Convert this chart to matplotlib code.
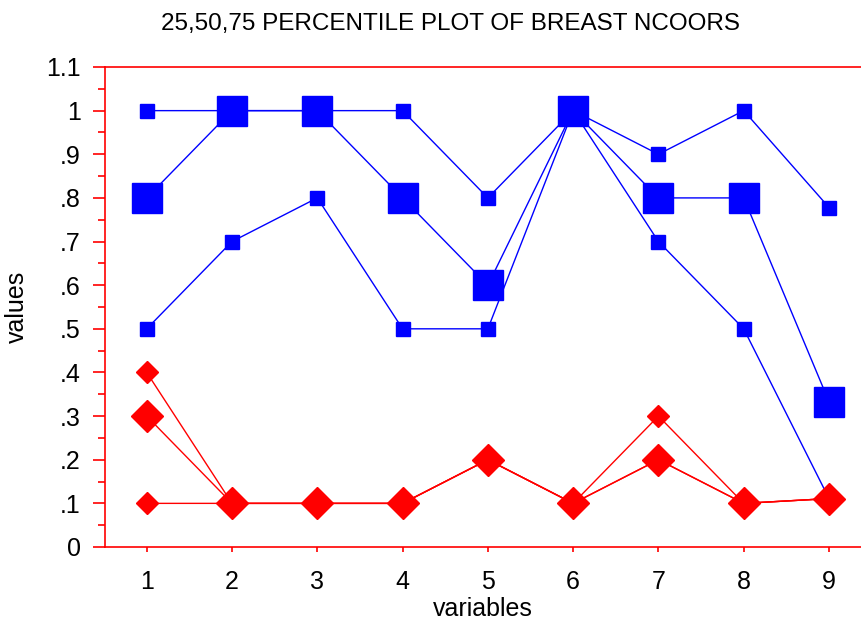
import matplotlib
matplotlib.use("Agg")
import matplotlib.pyplot as plt
import numpy as np

plt.rcParams['font.family'] = ['Liberation Sans', 'DejaVu Sans']

variables = [1, 2, 3, 4, 5, 6, 7, 8, 9]

# blue group
blue_p75 = [1.0, 1.0, 1.0, 1.0, 0.8, 1.0, 0.9, 1.0, 0.778]
blue_p50 = [0.8, 1.0, 1.0, 0.8, 0.6, 1.0, 0.8, 0.8, 0.333]
blue_p25 = [0.5, 0.7, 0.8, 0.5, 0.5, 1.0, 0.7, 0.5, 0.111]

# red group
red_p75 = [0.4, 0.1, 0.1, 0.1, 0.2, 0.1, 0.3, 0.1, 0.111]
red_p50 = [0.3, 0.1, 0.1, 0.1, 0.2, 0.1, 0.2, 0.1, 0.111]
red_p25 = [0.1, 0.1, 0.1, 0.1, 0.2, 0.1, 0.2, 0.1, 0.111]

yticks = np.round(np.arange(0, 1.11, 0.1), 2)
ytick_labels = ['0', '.1', '.2', '.3', '.4', '.5', '.6', '.7', '.8', '.9', '1', '1.1']

fig = plt.figure(figsize=(8.61, 6.25), dpi=100)
ax = fig.add_axes([105 / 861, 78 / 625, 1 - 105 / 861, 480 / 625])

blue = '#0000ff'
red = '#ff0000'

ax.plot(variables, blue_p75, color=blue, lw=1, marker='s', ms=10, mec=blue, mfc=blue)
ax.plot(variables, blue_p25, color=blue, lw=1, marker='s', ms=10, mec=blue, mfc=blue)
ax.plot(variables, blue_p50, color=blue, lw=1, marker='s', ms=21.5, mec=blue, mfc=blue)

ax.plot(variables, red_p75, color=red, lw=1, marker='D', ms=11, mec=red, mfc=red)
ax.plot(variables, red_p25, color=red, lw=1, marker='D', ms=11, mec=red, mfc=red)
ax.plot(variables, red_p50, color=red, lw=1, marker='D', ms=16, mec=red, mfc=red)

ax.set_xlim(0.511, 9.375)
ax.set_ylim(0, 1.1)

ax.set_xticks(variables)
ax.set_xticklabels([str(v) for v in variables])
ax.set_yticks(yticks)
ax.set_yticklabels(ytick_labels)
ax.set_yticks(np.arange(0.05, 1.1, 0.1), minor=True)

for side in ['left', 'top', 'bottom']:
    ax.spines[side].set_color(red)
    ax.spines[side].set_linewidth(1.2)
ax.spines['right'].set_visible(False)

ax.tick_params(axis='y', which='major', direction='out', length=8.6, width=1.2,
               color=red, labelsize=18, pad=9)
ax.tick_params(axis='y', which='minor', direction='out', length=5, width=1.2, color=red)
ax.tick_params(axis='x', which='major', direction='out', length=3.6, width=1.2,
               color=red, labelsize=18, pad=13)

ax.set_xlabel('variables', fontsize=18, labelpad=2)
ax.set_ylabel('values', fontsize=18, labelpad=12)
fig.text(0.523, 1 - 24 / 625, '25,50,75 PERCENTILE PLOT OF BREAST NCOORS',
         ha='center', va='center', fontsize=17.5)

fig.savefig('out.png', dpi=100)
